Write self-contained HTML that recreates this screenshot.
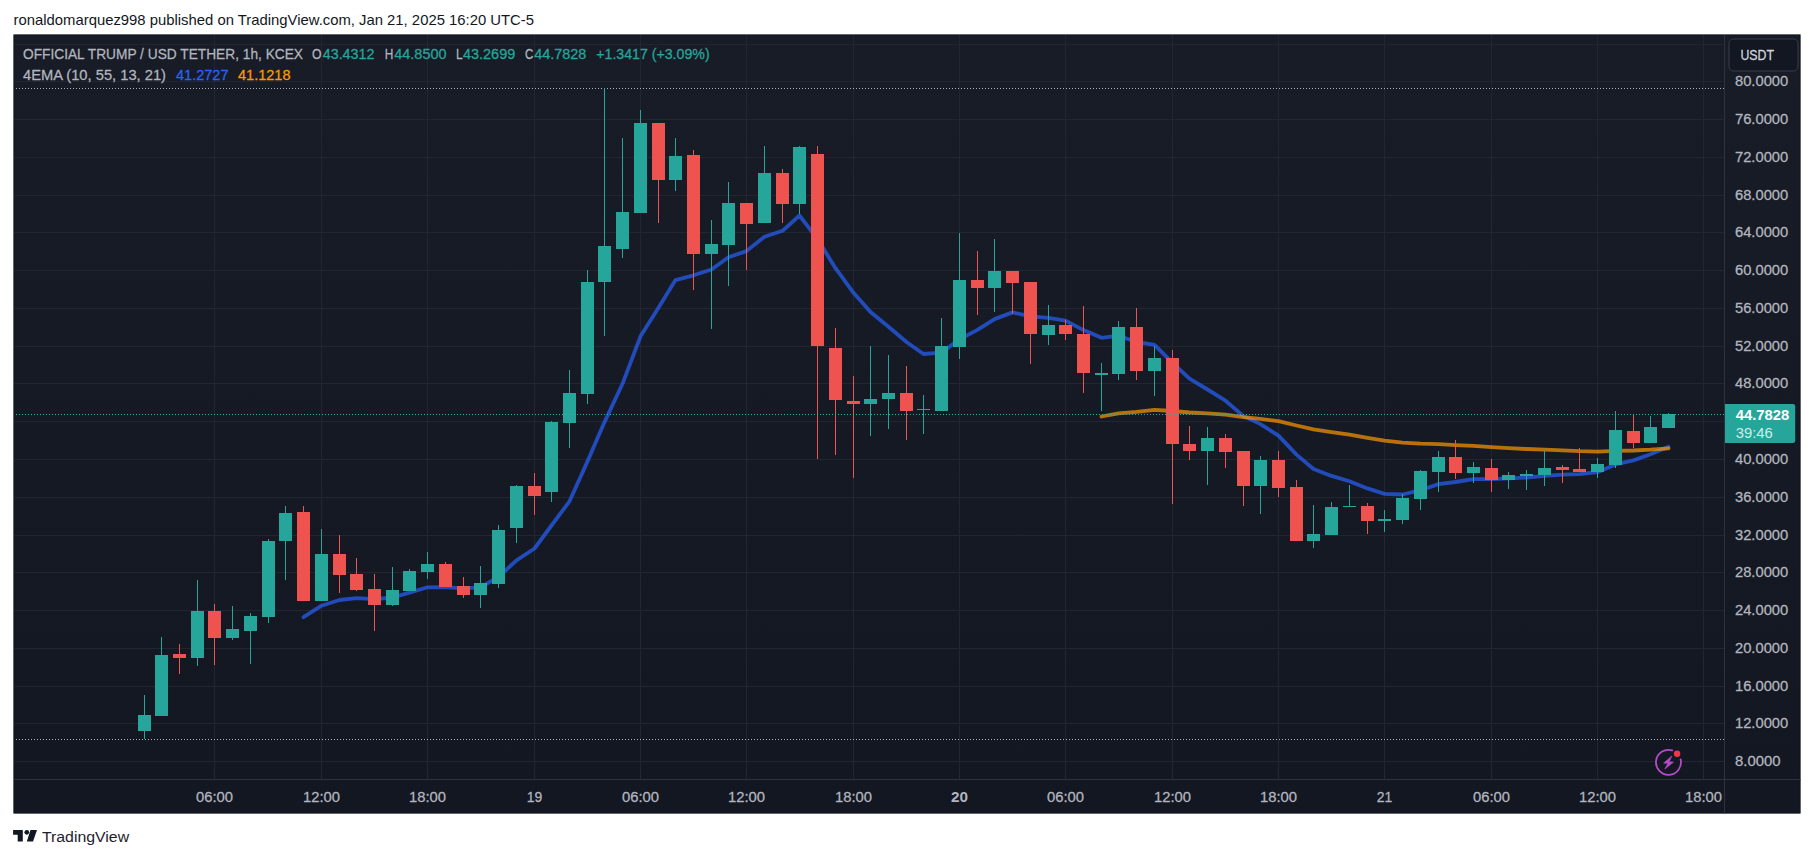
<!DOCTYPE html>
<html lang="en"><head><meta charset="utf-8"><title>TradingView chart snapshot</title>
<style>
html,body{margin:0;padding:0;background:#fff;}
body{width:1814px;height:858px;overflow:hidden;position:relative;}
svg{position:absolute;left:0;top:0;display:block;}
text{font-family:"Liberation Sans", Arial, sans-serif;font-size:15.2px;fill:#b2b5be;stroke:#b2b5be;stroke-width:.28px;}
.hd{fill:#131722;font-size:14.8px;stroke:none;}
.v{fill:#26a69a;stroke:#26a69a;}
.b{font-weight:bold;stroke:none;}
</style></head><body>
<svg width="1814" height="858" viewBox="0 0 1814 858">
<defs>
<linearGradient id="bg" x1="0" y1="0" x2="0" y2="1"><stop offset="0" stop-color="#181c27"/><stop offset="1" stop-color="#131722"/></linearGradient>
<clipPath id="pane"><rect x="13.5" y="34.5" width="1711" height="745"/></clipPath>
</defs>

<text class="hd" x="13.6" y="24.7" textLength="520.4" lengthAdjust="spacingAndGlyphs">ronaldomarquez998 published on TradingView.com, Jan 21, 2025 16:20 UTC-5</text>
<rect x="13.5" y="34.5" width="1787" height="779" fill="url(#bg)"/>
<rect x="14" y="35" width="1786" height="778" fill="none" stroke="#0f121b" stroke-width="1" opacity="0.6"/>
<g><rect x="14.5" y="761.00" width="1710" height="1" fill="#222632"/><rect x="14.5" y="723.00" width="1710" height="1" fill="#222632"/><rect x="14.5" y="686.00" width="1710" height="1" fill="#222632"/><rect x="14.5" y="648.00" width="1710" height="1" fill="#222632"/><rect x="14.5" y="610.00" width="1710" height="1" fill="#222632"/><rect x="14.5" y="572.00" width="1710" height="1" fill="#222632"/><rect x="14.5" y="535.00" width="1710" height="1" fill="#222632"/><rect x="14.5" y="497.00" width="1710" height="1" fill="#222632"/><rect x="14.5" y="459.00" width="1710" height="1" fill="#222632"/><rect x="14.5" y="421.00" width="1710" height="1" fill="#222632"/><rect x="14.5" y="383.00" width="1710" height="1" fill="#222632"/><rect x="14.5" y="346.00" width="1710" height="1" fill="#222632"/><rect x="14.5" y="308.00" width="1710" height="1" fill="#222632"/><rect x="14.5" y="270.00" width="1710" height="1" fill="#222632"/><rect x="14.5" y="232.00" width="1710" height="1" fill="#222632"/><rect x="14.5" y="195.00" width="1710" height="1" fill="#222632"/><rect x="14.5" y="157.00" width="1710" height="1" fill="#222632"/><rect x="14.5" y="119.00" width="1710" height="1" fill="#222632"/><rect x="14.5" y="81.00" width="1710" height="1" fill="#222632"/><rect x="14.5" y="44.00" width="1710" height="1" fill="#222632"/><rect x="214.00" y="35" width="1" height="744.5" fill="#222632"/><rect x="321.00" y="35" width="1" height="744.5" fill="#222632"/><rect x="427.00" y="35" width="1" height="744.5" fill="#222632"/><rect x="534.00" y="35" width="1" height="744.5" fill="#222632"/><rect x="640.00" y="35" width="1" height="744.5" fill="#222632"/><rect x="746.00" y="35" width="1" height="744.5" fill="#222632"/><rect x="853.00" y="35" width="1" height="744.5" fill="#222632"/><rect x="959.00" y="35" width="1" height="744.5" fill="#222632"/><rect x="1065.00" y="35" width="1" height="744.5" fill="#222632"/><rect x="1172.00" y="35" width="1" height="744.5" fill="#222632"/><rect x="1278.00" y="35" width="1" height="744.5" fill="#222632"/><rect x="1384.00" y="35" width="1" height="744.5" fill="#222632"/><rect x="1491.00" y="35" width="1" height="744.5" fill="#222632"/><rect x="1597.00" y="35" width="1" height="744.5" fill="#222632"/><rect x="1703.00" y="35" width="1" height="744.5" fill="#222632"/></g>
<rect x="1724" y="35" width="1" height="778.5" fill="#2e323e"/>
<rect x="14.5" y="779" width="1786" height="1" fill="#2e323e"/>
<line x1="16" x2="1724" y1="88.5" y2="88.5" stroke="#aeb1b9" stroke-width="1" stroke-dasharray="1 2" shape-rendering="crispEdges"/>
<line x1="16" x2="1724" y1="739.5" y2="739.5" stroke="#aeb1b9" stroke-width="1" stroke-dasharray="1 2" shape-rendering="crispEdges"/>
<path d="M303.5 617.2 L321.5 605.7 L339.5 600.0 L356.5 598.1 L374.5 599.2 L392.5 597.5 L409.5 592.6 L427.5 587.3 L445.5 587.1 L463.5 588.4 L480.5 587.4 L498.5 576.9 L516.5 560.3 L534.5 548.5 L551.5 525.5 L569.5 501.3 L587.5 461.4 L604.5 422.1 L622.5 383.8 L640.5 336.3 L658.5 307.8 L675.5 280.1 L693.5 275.3 L711.5 269.5 L728.5 257.3 L746.5 251.1 L764.5 236.8 L782.5 230.8 L799.5 215.5 L817.5 239.1 L835.5 268.2 L853.5 292.8 L870.5 312.1 L888.5 326.7 L906.5 342.0 L923.5 354.0 L941.5 352.6 L959.5 339.3 L977.5 329.9 L994.5 319.1 L1012.5 312.4 L1030.5 316.3 L1048.5 317.8 L1065.5 320.6 L1083.5 330.1 L1101.5 337.8 L1118.5 335.7 L1136.5 342.0 L1154.5 344.9 L1172.5 362.8 L1189.5 378.7 L1207.5 389.5 L1225.5 400.7 L1243.5 416.1 L1260.5 424.1 L1278.5 435.6 L1296.5 454.6 L1313.5 469.0 L1331.5 475.9 L1349.5 481.2 L1367.5 488.4 L1384.5 493.9 L1402.5 494.5 L1420.5 490.2 L1438.5 484.1 L1455.5 482.0 L1473.5 479.2 L1491.5 479.2 L1508.5 478.4 L1526.5 477.6 L1544.5 475.8 L1562.5 474.6 L1579.5 474.1 L1597.5 472.2 L1615.5 464.4 L1633.5 460.4 L1650.5 454.2 L1668.5 446.8" fill="none" stroke="#2962ff" stroke-opacity="0.69" stroke-width="3.8" stroke-linejoin="round" stroke-linecap="round"/>
<path d="M1101.5 416.5 L1118.5 413.3 L1136.5 411.8 L1154.5 409.8 L1172.5 411.0 L1189.5 412.5 L1207.5 413.4 L1225.5 414.7 L1243.5 417.2 L1260.5 418.8 L1278.5 421.2 L1296.5 425.5 L1313.5 429.3 L1331.5 432.1 L1349.5 434.7 L1367.5 437.8 L1384.5 440.7 L1402.5 442.7 L1420.5 443.7 L1438.5 444.2 L1455.5 445.2 L1473.5 445.9 L1491.5 447.1 L1508.5 448.1 L1526.5 449.0 L1544.5 449.7 L1562.5 450.4 L1579.5 451.2 L1597.5 451.6 L1615.5 450.8 L1633.5 450.5 L1650.5 449.7 L1668.5 448.4" fill="none" stroke="#ff9800" stroke-opacity="0.7" stroke-width="3.8" stroke-linejoin="round" stroke-linecap="round"/>
<g clip-path="url(#pane)"><rect x="144.00" y="695.0" width="1" height="44.0" fill="#26a69a"/><rect x="138.00" y="715.0" width="13" height="16.0" fill="#26a69a"/><rect x="161.00" y="637.0" width="1" height="79.0" fill="#26a69a"/><rect x="155.00" y="655.0" width="13" height="61.0" fill="#26a69a"/><rect x="179.00" y="644.0" width="1" height="30.0" fill="#ef5350"/><rect x="173.00" y="654.0" width="13" height="4.0" fill="#ef5350"/><rect x="197.00" y="580.0" width="1" height="86.0" fill="#26a69a"/><rect x="191.00" y="611.0" width="13" height="47.0" fill="#26a69a"/><rect x="214.00" y="604.0" width="1" height="61.0" fill="#ef5350"/><rect x="208.00" y="611.0" width="13" height="27.0" fill="#ef5350"/><rect x="232.00" y="606.0" width="1" height="34.0" fill="#26a69a"/><rect x="226.00" y="629.0" width="13" height="9.0" fill="#26a69a"/><rect x="250.00" y="613.0" width="1" height="51.0" fill="#26a69a"/><rect x="244.00" y="616.0" width="13" height="15.0" fill="#26a69a"/><rect x="268.00" y="539.0" width="1" height="84.0" fill="#26a69a"/><rect x="262.00" y="541.0" width="13" height="76.0" fill="#26a69a"/><rect x="285.00" y="506.0" width="1" height="74.0" fill="#26a69a"/><rect x="279.00" y="513.0" width="13" height="28.0" fill="#26a69a"/><rect x="303.00" y="506.0" width="1" height="95.0" fill="#ef5350"/><rect x="297.00" y="512.0" width="13" height="89.0" fill="#ef5350"/><rect x="321.00" y="529.0" width="1" height="72.0" fill="#26a69a"/><rect x="315.00" y="554.0" width="13" height="47.0" fill="#26a69a"/><rect x="339.00" y="535.0" width="1" height="58.0" fill="#ef5350"/><rect x="333.00" y="554.0" width="13" height="21.0" fill="#ef5350"/><rect x="356.00" y="558.0" width="1" height="33.0" fill="#ef5350"/><rect x="350.00" y="574.0" width="13" height="16.0" fill="#ef5350"/><rect x="374.00" y="574.0" width="1" height="57.0" fill="#ef5350"/><rect x="368.00" y="589.0" width="13" height="16.0" fill="#ef5350"/><rect x="392.00" y="567.0" width="1" height="39.0" fill="#26a69a"/><rect x="386.00" y="590.0" width="13" height="15.0" fill="#26a69a"/><rect x="409.00" y="569.0" width="1" height="22.0" fill="#26a69a"/><rect x="403.00" y="571.0" width="13" height="20.0" fill="#26a69a"/><rect x="427.00" y="552.0" width="1" height="27.0" fill="#26a69a"/><rect x="421.00" y="564.0" width="13" height="8.0" fill="#26a69a"/><rect x="445.00" y="562.0" width="1" height="25.0" fill="#ef5350"/><rect x="439.00" y="564.0" width="13" height="23.0" fill="#ef5350"/><rect x="463.00" y="577.0" width="1" height="21.0" fill="#ef5350"/><rect x="457.00" y="586.0" width="13" height="9.0" fill="#ef5350"/><rect x="480.00" y="566.0" width="1" height="42.0" fill="#26a69a"/><rect x="474.00" y="583.0" width="13" height="12.0" fill="#26a69a"/><rect x="498.00" y="525.0" width="1" height="63.0" fill="#26a69a"/><rect x="492.00" y="530.0" width="13" height="54.0" fill="#26a69a"/><rect x="516.00" y="485.0" width="1" height="58.0" fill="#26a69a"/><rect x="510.00" y="486.0" width="13" height="42.0" fill="#26a69a"/><rect x="534.00" y="473.0" width="1" height="42.0" fill="#ef5350"/><rect x="528.00" y="486.0" width="13" height="10.0" fill="#ef5350"/><rect x="551.00" y="421.0" width="1" height="81.0" fill="#26a69a"/><rect x="545.00" y="422.0" width="13" height="70.0" fill="#26a69a"/><rect x="569.00" y="370.0" width="1" height="78.0" fill="#26a69a"/><rect x="563.00" y="393.0" width="13" height="30.0" fill="#26a69a"/><rect x="587.00" y="270.0" width="1" height="134.0" fill="#26a69a"/><rect x="581.00" y="282.0" width="13" height="112.0" fill="#26a69a"/><rect x="604.00" y="88.0" width="1" height="248.0" fill="#26a69a"/><rect x="598.00" y="246.0" width="13" height="36.0" fill="#26a69a"/><rect x="622.00" y="138.0" width="1" height="120.0" fill="#26a69a"/><rect x="616.00" y="212.0" width="13" height="37.0" fill="#26a69a"/><rect x="640.00" y="110.0" width="1" height="103.0" fill="#26a69a"/><rect x="634.00" y="123.0" width="13" height="90.0" fill="#26a69a"/><rect x="658.00" y="123.0" width="1" height="100.0" fill="#ef5350"/><rect x="652.00" y="123.0" width="13" height="57.0" fill="#ef5350"/><rect x="675.00" y="138.0" width="1" height="53.0" fill="#26a69a"/><rect x="669.00" y="156.0" width="13" height="24.0" fill="#26a69a"/><rect x="693.00" y="150.0" width="1" height="140.0" fill="#ef5350"/><rect x="687.00" y="155.0" width="13" height="99.0" fill="#ef5350"/><rect x="711.00" y="220.0" width="1" height="109.0" fill="#26a69a"/><rect x="705.00" y="244.0" width="13" height="10.0" fill="#26a69a"/><rect x="728.00" y="182.0" width="1" height="104.0" fill="#26a69a"/><rect x="722.00" y="203.0" width="13" height="42.0" fill="#26a69a"/><rect x="746.00" y="203.0" width="1" height="67.0" fill="#ef5350"/><rect x="740.00" y="203.0" width="13" height="21.0" fill="#ef5350"/><rect x="764.00" y="146.0" width="1" height="77.0" fill="#26a69a"/><rect x="758.00" y="173.0" width="13" height="50.0" fill="#26a69a"/><rect x="782.00" y="169.0" width="1" height="54.0" fill="#ef5350"/><rect x="776.00" y="173.0" width="13" height="31.0" fill="#ef5350"/><rect x="799.00" y="146.0" width="1" height="68.0" fill="#26a69a"/><rect x="793.00" y="147.0" width="13" height="57.0" fill="#26a69a"/><rect x="817.00" y="146.0" width="1" height="313.0" fill="#ef5350"/><rect x="811.00" y="154.0" width="13" height="192.0" fill="#ef5350"/><rect x="835.00" y="328.0" width="1" height="127.0" fill="#ef5350"/><rect x="829.00" y="348.0" width="13" height="52.0" fill="#ef5350"/><rect x="853.00" y="376.0" width="1" height="102.0" fill="#ef5350"/><rect x="847.00" y="401.0" width="13" height="3.0" fill="#ef5350"/><rect x="870.00" y="346.0" width="1" height="90.0" fill="#26a69a"/><rect x="864.00" y="399.0" width="13" height="5.0" fill="#26a69a"/><rect x="888.00" y="355.0" width="1" height="74.0" fill="#26a69a"/><rect x="882.00" y="393.0" width="13" height="6.0" fill="#26a69a"/><rect x="906.00" y="366.0" width="1" height="74.0" fill="#ef5350"/><rect x="900.00" y="393.0" width="13" height="18.0" fill="#ef5350"/><rect x="923.00" y="395.0" width="1" height="39.0" fill="#26a69a"/><rect x="917.00" y="409.0" width="13" height="1.0" fill="#26a69a"/><rect x="941.00" y="318.0" width="1" height="93.0" fill="#26a69a"/><rect x="935.00" y="346.0" width="13" height="65.0" fill="#26a69a"/><rect x="959.00" y="233.0" width="1" height="126.0" fill="#26a69a"/><rect x="953.00" y="280.0" width="13" height="67.0" fill="#26a69a"/><rect x="977.00" y="251.0" width="1" height="64.0" fill="#ef5350"/><rect x="971.00" y="280.0" width="13" height="8.0" fill="#ef5350"/><rect x="994.00" y="239.0" width="1" height="73.0" fill="#26a69a"/><rect x="988.00" y="271.0" width="13" height="17.0" fill="#26a69a"/><rect x="1012.00" y="271.0" width="1" height="43.0" fill="#ef5350"/><rect x="1006.00" y="271.0" width="13" height="12.0" fill="#ef5350"/><rect x="1030.00" y="282.0" width="1" height="82.0" fill="#ef5350"/><rect x="1024.00" y="282.0" width="13" height="52.0" fill="#ef5350"/><rect x="1048.00" y="305.0" width="1" height="40.0" fill="#26a69a"/><rect x="1042.00" y="325.0" width="13" height="10.0" fill="#26a69a"/><rect x="1065.00" y="320.0" width="1" height="20.0" fill="#ef5350"/><rect x="1059.00" y="325.0" width="13" height="9.0" fill="#ef5350"/><rect x="1083.00" y="306.0" width="1" height="87.0" fill="#ef5350"/><rect x="1077.00" y="334.0" width="13" height="39.0" fill="#ef5350"/><rect x="1101.00" y="363.0" width="1" height="48.0" fill="#26a69a"/><rect x="1095.00" y="373.0" width="13" height="2.0" fill="#26a69a"/><rect x="1118.00" y="321.0" width="1" height="59.0" fill="#26a69a"/><rect x="1112.00" y="327.0" width="13" height="47.0" fill="#26a69a"/><rect x="1136.00" y="308.0" width="1" height="72.0" fill="#ef5350"/><rect x="1130.00" y="327.0" width="13" height="44.0" fill="#ef5350"/><rect x="1154.00" y="346.0" width="1" height="50.0" fill="#26a69a"/><rect x="1148.00" y="358.0" width="13" height="13.0" fill="#26a69a"/><rect x="1172.00" y="350.0" width="1" height="154.0" fill="#ef5350"/><rect x="1166.00" y="358.0" width="13" height="86.0" fill="#ef5350"/><rect x="1189.00" y="426.0" width="1" height="34.0" fill="#ef5350"/><rect x="1183.00" y="444.0" width="13" height="7.0" fill="#ef5350"/><rect x="1207.00" y="427.0" width="1" height="58.0" fill="#26a69a"/><rect x="1201.00" y="438.0" width="13" height="13.0" fill="#26a69a"/><rect x="1225.00" y="434.0" width="1" height="34.0" fill="#ef5350"/><rect x="1219.00" y="438.0" width="13" height="14.0" fill="#ef5350"/><rect x="1243.00" y="451.0" width="1" height="55.0" fill="#ef5350"/><rect x="1237.00" y="451.0" width="13" height="35.0" fill="#ef5350"/><rect x="1260.00" y="456.0" width="1" height="58.0" fill="#26a69a"/><rect x="1254.00" y="460.0" width="13" height="26.0" fill="#26a69a"/><rect x="1278.00" y="451.0" width="1" height="46.0" fill="#ef5350"/><rect x="1272.00" y="460.0" width="13" height="28.0" fill="#ef5350"/><rect x="1296.00" y="480.0" width="1" height="61.0" fill="#ef5350"/><rect x="1290.00" y="487.0" width="13" height="54.0" fill="#ef5350"/><rect x="1313.00" y="505.0" width="1" height="43.0" fill="#26a69a"/><rect x="1307.00" y="534.0" width="13" height="7.0" fill="#26a69a"/><rect x="1331.00" y="502.0" width="1" height="33.0" fill="#26a69a"/><rect x="1325.00" y="507.0" width="13" height="28.0" fill="#26a69a"/><rect x="1349.00" y="485.0" width="1" height="22.0" fill="#26a69a"/><rect x="1343.00" y="506.0" width="13" height="1.0" fill="#26a69a"/><rect x="1367.00" y="503.0" width="1" height="31.0" fill="#ef5350"/><rect x="1361.00" y="506.0" width="13" height="15.0" fill="#ef5350"/><rect x="1384.00" y="510.0" width="1" height="22.0" fill="#26a69a"/><rect x="1378.00" y="519.0" width="13" height="2.0" fill="#26a69a"/><rect x="1402.00" y="494.0" width="1" height="30.0" fill="#26a69a"/><rect x="1396.00" y="498.0" width="13" height="22.0" fill="#26a69a"/><rect x="1420.00" y="470.0" width="1" height="40.0" fill="#26a69a"/><rect x="1414.00" y="471.0" width="13" height="28.0" fill="#26a69a"/><rect x="1438.00" y="451.0" width="1" height="41.0" fill="#26a69a"/><rect x="1432.00" y="457.0" width="13" height="15.0" fill="#26a69a"/><rect x="1455.00" y="440.0" width="1" height="39.0" fill="#ef5350"/><rect x="1449.00" y="457.0" width="13" height="16.0" fill="#ef5350"/><rect x="1473.00" y="462.0" width="1" height="21.0" fill="#26a69a"/><rect x="1467.00" y="467.0" width="13" height="6.0" fill="#26a69a"/><rect x="1491.00" y="459.0" width="1" height="33.0" fill="#ef5350"/><rect x="1485.00" y="468.0" width="13" height="12.0" fill="#ef5350"/><rect x="1508.00" y="472.0" width="1" height="17.0" fill="#26a69a"/><rect x="1502.00" y="475.0" width="13" height="5.0" fill="#26a69a"/><rect x="1526.00" y="470.0" width="1" height="20.0" fill="#26a69a"/><rect x="1520.00" y="474.0" width="13" height="2.0" fill="#26a69a"/><rect x="1544.00" y="450.0" width="1" height="36.0" fill="#26a69a"/><rect x="1538.00" y="468.0" width="13" height="7.0" fill="#26a69a"/><rect x="1562.00" y="465.0" width="1" height="18.0" fill="#ef5350"/><rect x="1556.00" y="467.0" width="13" height="3.0" fill="#ef5350"/><rect x="1579.00" y="448.0" width="1" height="24.0" fill="#ef5350"/><rect x="1573.00" y="469.0" width="13" height="3.0" fill="#ef5350"/><rect x="1597.00" y="458.0" width="1" height="20.0" fill="#26a69a"/><rect x="1591.00" y="464.0" width="13" height="8.0" fill="#26a69a"/><rect x="1615.00" y="411.0" width="1" height="57.0" fill="#26a69a"/><rect x="1609.00" y="430.0" width="13" height="35.0" fill="#26a69a"/><rect x="1633.00" y="415.0" width="1" height="33.0" fill="#ef5350"/><rect x="1627.00" y="431.0" width="13" height="12.0" fill="#ef5350"/><rect x="1650.00" y="416.0" width="1" height="27.0" fill="#26a69a"/><rect x="1644.00" y="427.0" width="13" height="16.0" fill="#26a69a"/><rect x="1668.00" y="413.0" width="1" height="15.0" fill="#26a69a"/><rect x="1662.00" y="414.0" width="13" height="14.0" fill="#26a69a"/></g>
<line x1="16" x2="1724" y1="414.5" y2="414.5" stroke="#2bb3a6" stroke-width="1" stroke-dasharray="1 2" shape-rendering="crispEdges"/>
<text x="23.0" y="59.0" textLength="280.0" lengthAdjust="spacingAndGlyphs">OFFICIAL TRUMP / USD TETHER, 1h, KCEX</text>
<text x="312.0" y="59.0" textLength="9.5" lengthAdjust="spacingAndGlyphs">O</text>
<text x="322.7" y="59.0" textLength="51.8" lengthAdjust="spacingAndGlyphs" class="v">43.4312</text>
<text x="384.8" y="59.0" textLength="8.6" lengthAdjust="spacingAndGlyphs">H</text>
<text x="394.3" y="59.0" textLength="52.2" lengthAdjust="spacingAndGlyphs" class="v">44.8500</text>
<text x="455.9" y="59.0" textLength="6.7" lengthAdjust="spacingAndGlyphs">L</text>
<text x="463.0" y="59.0" textLength="52.2" lengthAdjust="spacingAndGlyphs" class="v">43.2699</text>
<text x="525.1" y="59.0" textLength="8.3" lengthAdjust="spacingAndGlyphs">C</text>
<text x="534.2" y="59.0" textLength="52.1" lengthAdjust="spacingAndGlyphs" class="v">44.7828</text>
<text x="596.3" y="59.0" textLength="113.3" lengthAdjust="spacingAndGlyphs" class="v">+1.3417 (+3.09%)</text>
<text x="23.0" y="80.0" textLength="143.0" lengthAdjust="spacingAndGlyphs">4EMA (10, 55, 13, 21)</text>
<text x="176.0" y="80.0" textLength="52.5" lengthAdjust="spacingAndGlyphs" style="fill:#2962ff;stroke:#2962ff">41.2727</text>
<text x="238.0" y="80.0" textLength="52.5" lengthAdjust="spacingAndGlyphs" style="fill:#ff9800;stroke:#ff9800">41.1218</text>
<text x="1735.0" y="765.9" textLength="45.5" lengthAdjust="spacingAndGlyphs">8.0000</text>
<text x="1735.0" y="727.9" textLength="53.2" lengthAdjust="spacingAndGlyphs">12.0000</text>
<text x="1735.0" y="690.9" textLength="53.2" lengthAdjust="spacingAndGlyphs">16.0000</text>
<text x="1735.0" y="652.9" textLength="53.2" lengthAdjust="spacingAndGlyphs">20.0000</text>
<text x="1735.0" y="614.9" textLength="53.2" lengthAdjust="spacingAndGlyphs">24.0000</text>
<text x="1735.0" y="576.9" textLength="53.2" lengthAdjust="spacingAndGlyphs">28.0000</text>
<text x="1735.0" y="539.9" textLength="53.2" lengthAdjust="spacingAndGlyphs">32.0000</text>
<text x="1735.0" y="501.9" textLength="53.2" lengthAdjust="spacingAndGlyphs">36.0000</text>
<text x="1735.0" y="463.9" textLength="53.2" lengthAdjust="spacingAndGlyphs">40.0000</text>
<text x="1735.0" y="425.9" textLength="53.2" lengthAdjust="spacingAndGlyphs">44.0000</text>
<text x="1735.0" y="387.9" textLength="53.2" lengthAdjust="spacingAndGlyphs">48.0000</text>
<text x="1735.0" y="350.9" textLength="53.2" lengthAdjust="spacingAndGlyphs">52.0000</text>
<text x="1735.0" y="312.9" textLength="53.2" lengthAdjust="spacingAndGlyphs">56.0000</text>
<text x="1735.0" y="274.9" textLength="53.2" lengthAdjust="spacingAndGlyphs">60.0000</text>
<text x="1735.0" y="236.9" textLength="53.2" lengthAdjust="spacingAndGlyphs">64.0000</text>
<text x="1735.0" y="199.9" textLength="53.2" lengthAdjust="spacingAndGlyphs">68.0000</text>
<text x="1735.0" y="161.9" textLength="53.2" lengthAdjust="spacingAndGlyphs">72.0000</text>
<text x="1735.0" y="123.9" textLength="53.2" lengthAdjust="spacingAndGlyphs">76.0000</text>
<text x="1735.0" y="85.9" textLength="53.2" lengthAdjust="spacingAndGlyphs">80.0000</text>
<rect x="1729" y="39" width="69" height="32" rx="4.5" fill="#131722" stroke="#3a3e4a" stroke-width="1"/>
<text x="1740.4" y="59.8" textLength="33.6" lengthAdjust="spacingAndGlyphs" style="fill:#d1d4dc;stroke:#d1d4dc">USDT</text>
<path d="M1725 404 H1792.7 a2.5 2.5 0 0 1 2.5 2.5 V440.5 a2.5 2.5 0 0 1 -2.5 2.5 H1725 Z" fill="#26a69a"/>
<text x="1735.7" y="419.8" textLength="53.5" lengthAdjust="spacingAndGlyphs" class="b" style="fill:#fff">44.7828</text>
<text x="1735.7" y="437.5" textLength="37.1" lengthAdjust="spacingAndGlyphs" style="fill:#fff;fill-opacity:.8;stroke:none">39:46</text>
<text x="214.5" y="801.9" text-anchor="middle" textLength="37.0" lengthAdjust="spacingAndGlyphs">06:00</text>
<text x="321.5" y="801.9" text-anchor="middle" textLength="37.0" lengthAdjust="spacingAndGlyphs">12:00</text>
<text x="427.5" y="801.9" text-anchor="middle" textLength="37.0" lengthAdjust="spacingAndGlyphs">18:00</text>
<text x="534.5" y="801.9" text-anchor="middle" textLength="15.5" lengthAdjust="spacingAndGlyphs">19</text>
<text x="640.5" y="801.9" text-anchor="middle" textLength="37.0" lengthAdjust="spacingAndGlyphs">06:00</text>
<text x="746.5" y="801.9" text-anchor="middle" textLength="37.0" lengthAdjust="spacingAndGlyphs">12:00</text>
<text x="853.5" y="801.9" text-anchor="middle" textLength="37.0" lengthAdjust="spacingAndGlyphs">18:00</text>
<text x="959.5" y="801.9" text-anchor="middle" textLength="17.0" lengthAdjust="spacingAndGlyphs" class="b">20</text>
<text x="1065.5" y="801.9" text-anchor="middle" textLength="37.0" lengthAdjust="spacingAndGlyphs">06:00</text>
<text x="1172.5" y="801.9" text-anchor="middle" textLength="37.0" lengthAdjust="spacingAndGlyphs">12:00</text>
<text x="1278.5" y="801.9" text-anchor="middle" textLength="37.0" lengthAdjust="spacingAndGlyphs">18:00</text>
<text x="1384.5" y="801.9" text-anchor="middle" textLength="15.5" lengthAdjust="spacingAndGlyphs">21</text>
<text x="1491.5" y="801.9" text-anchor="middle" textLength="37.0" lengthAdjust="spacingAndGlyphs">06:00</text>
<text x="1597.5" y="801.9" text-anchor="middle" textLength="37.0" lengthAdjust="spacingAndGlyphs">12:00</text>
<text x="1703.5" y="801.9" text-anchor="middle" textLength="37.0" lengthAdjust="spacingAndGlyphs">18:00</text>
<g><circle cx="1668.5" cy="762.4" r="13.6" fill="#141823"/><path d="M1672.2 750.4 A12.5 12.5 0 1 0 1680.6 759.3" fill="none" stroke="#b44bc8" stroke-width="1.8" stroke-linecap="round"/><path d="M1671.9 756 L1663.7 763.1 L1668.1 763.3 L1664.8 769 L1673.5 762.1 L1669.1 761.8 Z" fill="#b44bc8" stroke="#b44bc8" stroke-width="0.7" stroke-linejoin="round"/><circle cx="1677.1" cy="753.8" r="3.2" fill="#f23645"/></g>
<g fill="#131722"><path d="M13.1 829.9 H22.8 V841.6 H17.7 V834.8 H13.1 Z"/><circle cx="26.8" cy="832.3" r="2.35"/><path d="M30.5 829.9 H37 L33 841.6 H26.8 Z"/></g>
<text x="41.9" y="841.6" textLength="87.2" lengthAdjust="spacingAndGlyphs" style="fill:#1e222d;font-size:15.3px;stroke:none">TradingView</text>
</svg></body></html>
